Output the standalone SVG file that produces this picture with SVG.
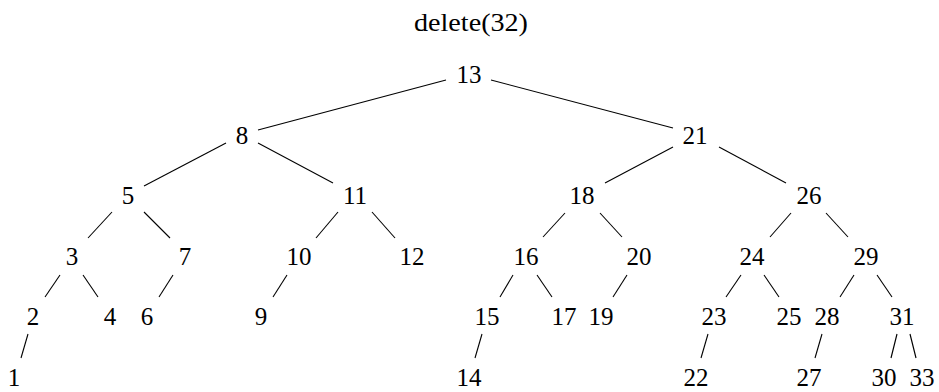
<svg xmlns="http://www.w3.org/2000/svg" width="939" height="392" viewBox="0 0 939 392">
<style>
text{font-family:"Liberation Serif","DejaVu Serif",serif;font-size:25px;fill:#000;text-anchor:middle}
.e line{stroke:#000;stroke-width:1.1}
</style>
<rect width="939" height="392" fill="#fff"/>
<text id="title" x="471" y="31" textLength="114" lengthAdjust="spacingAndGlyphs">delete(32)</text>
<g class="e" id="edges">
<line x1="446" y1="80" x2="258" y2="130"/>
<line x1="491" y1="80" x2="673" y2="128"/>
<line x1="226" y1="143" x2="144" y2="186"/>
<line x1="258" y1="143" x2="333" y2="183"/>
<line x1="673" y1="147" x2="605" y2="183"/>
<line x1="719" y1="147" x2="786" y2="183"/>
<line x1="112" y1="212" x2="88" y2="238"/>
<line x1="144" y1="212" x2="170" y2="238"/>
<line x1="338" y1="212" x2="316" y2="238"/>
<line x1="372" y1="212" x2="395" y2="238"/>
<line x1="565" y1="213" x2="543" y2="237"/>
<line x1="600" y1="213" x2="622" y2="237"/>
<line x1="791" y1="213" x2="770" y2="237"/>
<line x1="826" y1="213" x2="848" y2="237"/>
<line x1="60" y1="275" x2="45" y2="297"/>
<line x1="83" y1="275" x2="98" y2="297"/>
<line x1="173" y1="275" x2="159" y2="297"/>
<line x1="287" y1="275" x2="273" y2="297"/>
<line x1="513" y1="275" x2="500" y2="297"/>
<line x1="537" y1="275" x2="552" y2="297"/>
<line x1="627" y1="275" x2="613" y2="297"/>
<line x1="741" y1="275" x2="726" y2="297"/>
<line x1="764" y1="275" x2="779" y2="297"/>
<line x1="854" y1="275" x2="840" y2="297"/>
<line x1="877" y1="275" x2="892" y2="297"/>
<line x1="28" y1="334" x2="21" y2="358"/>
<line x1="482" y1="334" x2="475" y2="358"/>
<line x1="708" y1="334" x2="701" y2="358"/>
<line x1="822" y1="334" x2="815" y2="358"/>
<line x1="897" y1="334" x2="891" y2="358"/>
<line x1="910" y1="334" x2="916" y2="358"/>
</g>
<g id="n13"><text x="469" y="83">13</text></g>
<g id="n8"><text x="242" y="144">8</text></g>
<g id="n21"><text x="695" y="144">21</text></g>
<g id="n5"><text x="128" y="204">5</text></g>
<g id="n11"><text x="355" y="204">11</text></g>
<g id="n18"><text x="582" y="204">18</text></g>
<g id="n26"><text x="809" y="204">26</text></g>
<g id="n3"><text x="72" y="265">3</text></g>
<g id="n7"><text x="185" y="265">7</text></g>
<g id="n10"><text x="299" y="265">10</text></g>
<g id="n12"><text x="412" y="265">12</text></g>
<g id="n16"><text x="526" y="265">16</text></g>
<g id="n20"><text x="639" y="265">20</text></g>
<g id="n24"><text x="752" y="265">24</text></g>
<g id="n29"><text x="866" y="265">29</text></g>
<g id="n2"><text x="33" y="325">2</text></g>
<g id="n4"><text x="110" y="325">4</text></g>
<g id="n6"><text x="147" y="325">6</text></g>
<g id="n9"><text x="261" y="325">9</text></g>
<g id="n15"><text x="487" y="325">15</text></g>
<g id="n17"><text x="564" y="325">17</text></g>
<g id="n19"><text x="601" y="325">19</text></g>
<g id="n23"><text x="714" y="325">23</text></g>
<g id="n25"><text x="789" y="325">25</text></g>
<g id="n28"><text x="827" y="325">28</text></g>
<g id="n31"><text x="902" y="325">31</text></g>
<g id="n1"><text x="14" y="386">1</text></g>
<g id="n14"><text x="469" y="386">14</text></g>
<g id="n22"><text x="696" y="386">22</text></g>
<g id="n27"><text x="809" y="386">27</text></g>
<g id="n30"><text x="884" y="386">30</text></g>
<g id="n33"><text x="922" y="386">33</text></g>
</svg>
